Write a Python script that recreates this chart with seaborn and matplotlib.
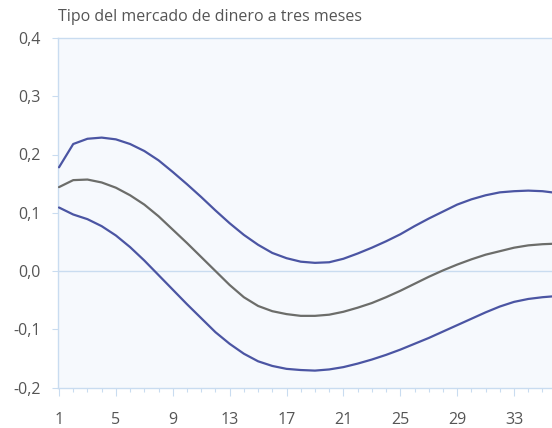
import matplotlib
matplotlib.use("Agg")
import matplotlib.pyplot as plt
import seaborn as sns
import pandas as pd
from matplotlib.ticker import MultipleLocator, FixedLocator, FuncFormatter

# Impulse response of the three-month money market rate with confidence band
periodos = list(range(1, 37))

banda_superior = [0.178, 0.218, 0.227, 0.229, 0.226, 0.218, 0.206, 0.190, 0.170, 0.149,
                  0.127, 0.104, 0.082, 0.062, 0.045, 0.031, 0.022, 0.016, 0.014, 0.015,
                  0.021, 0.030, 0.040, 0.051, 0.063, 0.077, 0.090, 0.102, 0.114, 0.123,
                  0.130, 0.135, 0.137, 0.138, 0.137, 0.134]

respuesta = [0.144, 0.156, 0.157, 0.152, 0.143, 0.130, 0.114, 0.094, 0.071, 0.048,
             0.024, 0.000, -0.024, -0.045, -0.060, -0.069, -0.074, -0.077, -0.077, -0.075,
             -0.070, -0.063, -0.055, -0.045, -0.034, -0.022, -0.010, 0.001, 0.011, 0.020,
             0.028, 0.034, 0.040, 0.044, 0.046, 0.047]

banda_inferior = [0.109, 0.097, 0.089, 0.077, 0.061, 0.041, 0.018, -0.007, -0.032, -0.057,
                  -0.081, -0.105, -0.125, -0.142, -0.155, -0.163, -0.168, -0.170, -0.171, -0.169,
                  -0.165, -0.159, -0.152, -0.144, -0.135, -0.125, -0.115, -0.104, -0.093, -0.082,
                  -0.071, -0.061, -0.053, -0.048, -0.045, -0.043]

titulo = "Tipo del mercado de dinero a tres meses"
xticks = [1, 5, 9, 13, 17, 21, 25, 29, 33]
yticks = [-0.2, -0.1, 0.0, 0.1, 0.2, 0.3, 0.4]

df = pd.concat([
    pd.DataFrame({"periodo": periodos, "valor": banda_superior, "serie": "superior"}),
    pd.DataFrame({"periodo": periodos, "valor": respuesta, "serie": "central"}),
    pd.DataFrame({"periodo": periodos, "valor": banda_inferior, "serie": "inferior"}),
])

sns.set_style("white")
plt.rcParams["font.family"] = ["Open Sans", "DejaVu Sans"]

azul = "#4b55a3"
gris = "#6c6d6a"
linea_eje = "#c9dcf0"
texto = "#555555"

fig = plt.figure(figsize=(5.52, 4.28), dpi=100)
left_px, top_px, bottom_px = 57.5, 38.0, 387.5
ax = fig.add_axes([left_px / 552, 1 - bottom_px / 428,
                   (552 - left_px) / 552 + 0.01, (bottom_px - top_px) / 428])
ax.set_facecolor("#f6f9fd")

sns.lineplot(data=df, x="periodo", y="valor", hue="serie",
             palette={"superior": azul, "central": gris, "inferior": azul},
             linewidth=1.6, legend=False, ax=ax, zorder=3)
for ln in ax.get_lines():
    ln.set_solid_joinstyle("round")

px_per_unit = 14.22
x0 = 1 - 1.5 / px_per_unit
ax.set_xlim(x0, x0 + (552 - left_px + 0.01 * 552) / px_per_unit)
ax.set_ylim(-0.2, 0.4)

ax.axhline(0, color=linea_eje, linewidth=1.0, zorder=1)

for side in ["left", "top", "bottom"]:
    ax.spines[side].set_color(linea_eje)
    ax.spines[side].set_linewidth(1.0)
ax.spines["right"].set_visible(False)

ax.xaxis.set_major_locator(FixedLocator(xticks))
ax.xaxis.set_minor_locator(MultipleLocator(1))
ax.yaxis.set_major_locator(FixedLocator(yticks))
ax.yaxis.set_major_formatter(FuncFormatter(lambda v, p: f"{v:.1f}".replace(".", ",")))

ax.tick_params(axis="x", which="major", bottom=True, length=6, width=0.8,
               color=linea_eje, pad=12, labelsize=11.5, labelcolor=texto)
ax.tick_params(axis="x", which="minor", bottom=True, length=3, width=0.8, color=linea_eje)
ax.tick_params(axis="y", which="major", left=True, length=4, width=0.8,
               color=linea_eje, pad=8, labelsize=11.5, labelcolor=texto)

ax.set_xlabel("")
ax.set_ylabel("")

fig.text(58 / 552, 1 - 17 / 428, titulo, ha="left", va="center",
         fontsize=11.5, color=texto)

fig.savefig("out.png", dpi=100, facecolor="white")
